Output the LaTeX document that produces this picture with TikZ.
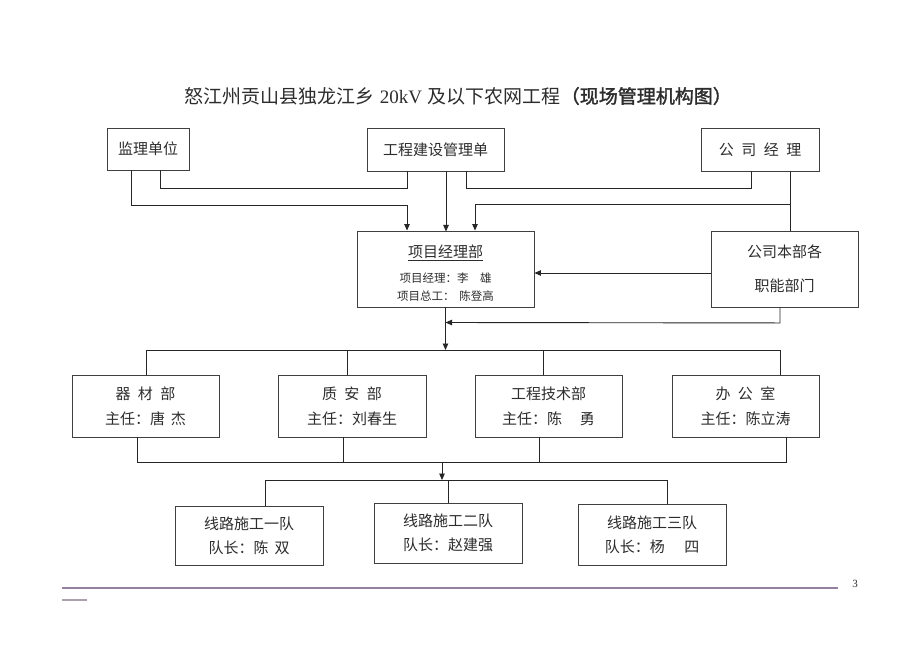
\documentclass[tikz,border=0pt]{standalone}
\usepackage{fontspec}
\setmainfont{Liberation Serif}
\newfontfamily\cjk{Noto Sans CJK SC}
\newfontfamily\cjkb[FakeBold=1.6]{Noto Sans CJK SC}
\usetikzlibrary{arrows.meta}
\definecolor{ink}{RGB}{45,45,45}
\definecolor{rule}{RGB}{150,128,160}
\definecolor{ruleb}{RGB}{170,160,175}
\begin{document}
\begin{tikzpicture}[x=1pt,y=-1pt,
  box/.style={draw=black!75, line width=0.9pt, inner sep=0pt, align=center, text=ink,
    font=\cjk\fontsize{15}{25}\selectfont},
  small/.style={inner sep=0pt, text=ink, font=\cjk\fontsize{11.5}{14}\selectfont},
  ln/.style={draw=black!85, line width=0.9pt},
  arr/.style={ln, -{Triangle[length=6.5pt,width=5.5pt]}}]
\fill[white] (0,0) rectangle (920,651);
\useasboundingbox (0,0) rectangle (920,651);

% title
\node[inner sep=0pt, text=ink, font=\fontsize{19}{19}\selectfont] (title) at (458,96)
  {{\cjk 怒江州贡山县独龙江乡}\hspace{0.3em}20kV\hspace{0.3em}{\cjk 及以下农网工程}{\cjkb （现场管理机构图）}};

% top row
\node[box, minimum width=82pt, minimum height=42pt] (jl) at (148,149) {监理单位};
\node[box, minimum width=137pt, minimum height=43pt] (gc) at (435.5,149.5) {工程建设管理单};
\node[box, minimum width=118pt, minimum height=43pt] (gm) at (760,149.5)
  {公\hspace{0.5em}司\hspace{0.5em}经\hspace{0.5em}理};

% middle
\node[box, minimum width=177pt, minimum height=76pt] (xm) at (445.5,269) {};
\node[inner sep=0pt, text=ink, font=\cjk\fontsize{15}{15}\selectfont] (xmt) at (445.5,253) {\underline{项目经理部}};
\node[small] (xm1) at (445.5,278) {项目经理：李\hspace{1em}雄};
\node[small] (xm2) at (445.5,296) {项目总工：\hspace{0.4em}陈登高};
\node[box, minimum width=147pt, minimum height=76pt, font=\cjk\fontsize{15}{34}\selectfont] (bb) at (784.5,269)
  {公司本部各\\职能部门};

% departments
\node[box, minimum width=147pt, minimum height=62pt] (qc) at (145.5,406)
  {器\hspace{0.5em}材\hspace{0.5em}部\\主任：唐\hspace{0.4em}杰};
\node[box, minimum width=148pt, minimum height=62pt] (za) at (352,406)
  {质\hspace{0.5em}安\hspace{0.5em}部\\主任：刘春生};
\node[box, minimum width=147pt, minimum height=62pt] (js) at (548.5,406)
  {工程技术部\\主任：陈\hspace{1.2em}勇};
\node[box, minimum width=147pt, minimum height=62pt] (bg) at (745.5,406)
  {办\hspace{0.5em}公\hspace{0.5em}室\\主任：陈立涛};

% teams
\node[box, minimum width=148pt, minimum height=59pt, font=\cjk\fontsize{15}{24}\selectfont] (d1) at (249,535.5)
  {线路施工一队\\队长：陈\hspace{0.4em}双};
\node[box, minimum width=148pt, minimum height=60pt, font=\cjk\fontsize{15}{24}\selectfont] (d2) at (448,533)
  {线路施工二队\\队长：赵建强};
\node[box, minimum width=148pt, minimum height=61pt, font=\cjk\fontsize{15}{24}\selectfont] (d3) at (652,534.5)
  {线路施工三队\\队长：杨\hspace{1.3em}四};

% connectors top
\draw[arr] ([xshift=-17pt]jl.south) -- ++(0,35) -| ([xshift=-38.5pt]xm.north);
\draw[ln] ([xshift=12pt]jl.south) -- ++(0,18) -| ([xshift=-28.5pt]gc.south);
\draw[arr] ([xshift=10.5pt]gc.south) -- ++(0,60);
\draw[ln] ([xshift=30.5pt]gc.south) -- ++(0,17) -| ([xshift=-9pt]gm.south);
\draw[ln] ([xshift=30pt]gm.south) -- ([xshift=5.5pt]bb.north);
\draw[arr] ([xshift=5.5pt,yshift=26pt]bb.north) -| ([xshift=29.5pt]xm.north);
\draw[arr] ([yshift=-4pt]bb.west) -- ([yshift=-4pt]xm.east);
\coordinate (m1) at (445.5,322.5);
\draw[arr] ([xshift=-4.5pt]bb.south) -- ++(0,15.5) -- (m1);

% bus to departments
\coordinate (b1) at (445.5,350);
\draw[arr] (xm.south) -- (b1);
\draw[ln] ([xshift=0.5pt]qc.north) |- (b1);
\draw[ln] ([xshift=34.5pt]bg.north) |- (b1);
\draw[ln] ([xshift=-5pt]za.north) -- ++(0,-25);
\draw[ln] ([xshift=-5.5pt]js.north) -- ++(0,-25);

% bus from departments
\coordinate (b2) at (442,462);
\draw[ln] ([xshift=-8.5pt]qc.south) |- (b2);
\draw[ln] ([xshift=40.5pt]bg.south) |- (b2);
\draw[ln] ([xshift=-9pt]za.south) -- ++(0,25);
\draw[ln] ([xshift=-9.5pt]js.south) -- ++(0,25);
\coordinate (b3) at (442,480);
\draw[arr] (b2) -- (b3);
\draw[ln] ([xshift=16pt]d1.north) |- (b3);
\draw[ln] ([xshift=15pt]d3.north) |- (b3);
\draw[ln] (d2.north) -- (d2.north |- b3);

% footer
\coordinate (f1) at (62,588);
\coordinate (f2) at (838,588);
\draw[rule, line width=1.2pt] (f1) -- (f2);
\coordinate (f3) at (62,600);
\coordinate (f4) at (87,600);
\draw[ruleb, line width=1.4pt] (f3) -- (f4);
\node[inner sep=0pt, text=ink, font=\fontsize{11}{11}\selectfont] (pg) at (855,584) {3};
\end{tikzpicture}
\end{document}
